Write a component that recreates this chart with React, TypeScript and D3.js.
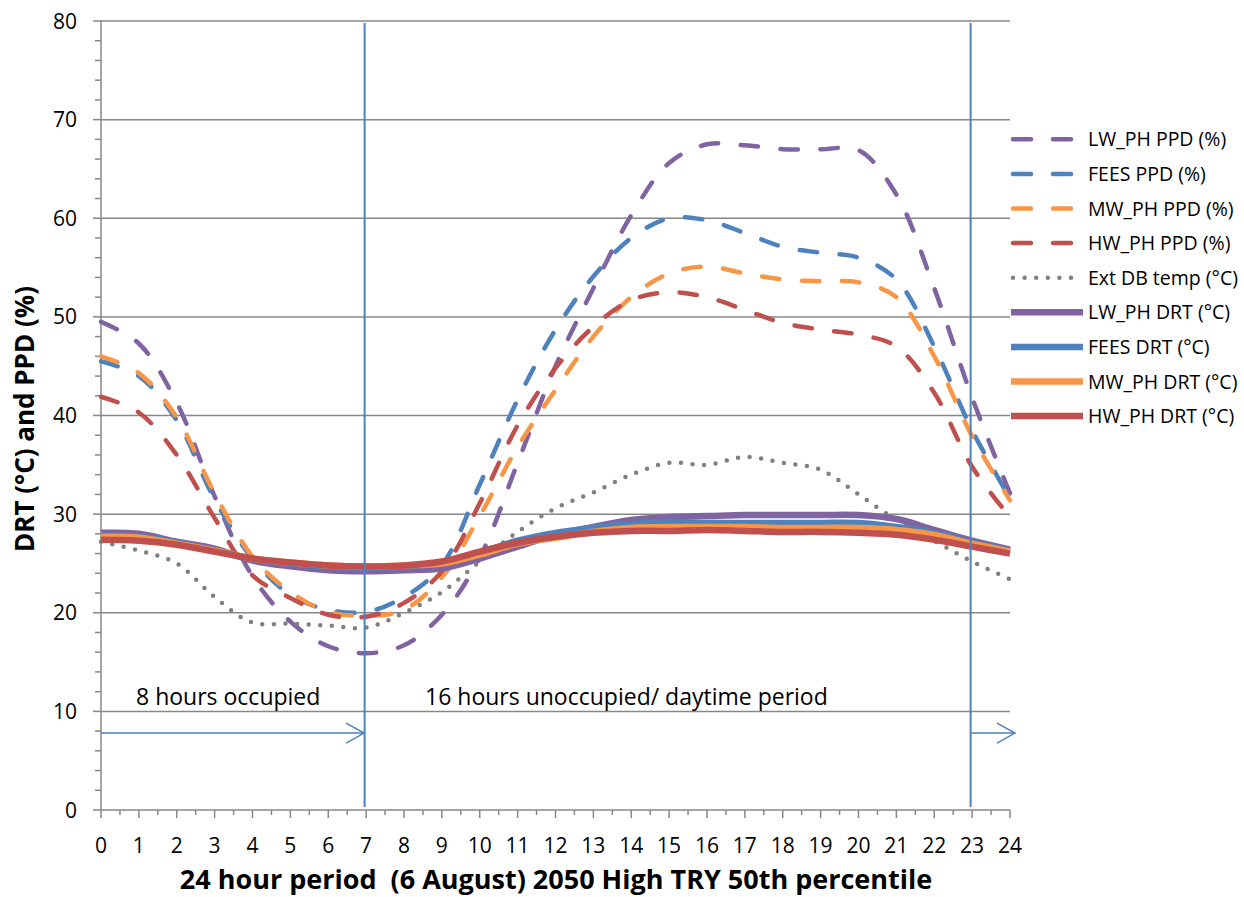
import React from "react";
import * as d3 from "d3";

const hours = [0, 1, 2, 3, 4, 5, 6, 7, 8, 9, 10, 11, 12, 13, 14, 15, 16, 17, 18, 19, 20, 21, 22, 23, 24];

const lwPpd = [49.5, 47.3, 41.3, 31.8, 23.7, 19.1, 16.6, 15.9, 16.7, 19.8, 25.6, 35.2, 45.0, 52.9, 60.3, 65.6, 67.5, 67.4, 67.0, 67.0, 66.9, 62.4, 52.9, 41.8, 32.1];
const feesPpd = [45.5, 44.0, 39.5, 31.5, 25.5, 21.8, 20.3, 20.1, 21.6, 24.8, 33.0, 41.6, 48.7, 54.1, 58.0, 60.0, 59.8, 58.5, 57.1, 56.5, 56.0, 53.8, 47.0, 38.5, 31.6];
const mwPpd = [46.0, 44.3, 39.8, 32.1, 25.7, 22.1, 20.1, 19.7, 20.3, 23.6, 29.8, 36.8, 42.6, 48.0, 52.0, 54.4, 55.1, 54.4, 53.8, 53.6, 53.5, 52.0, 46.0, 37.9, 31.4];
const hwPpd = [41.9, 40.3, 36.0, 29.6, 23.8, 21.5, 19.8, 19.6, 21.0, 24.2, 31.1, 39.0, 44.8, 49.0, 51.7, 52.5, 52.0, 50.7, 49.4, 48.7, 48.2, 47.0, 42.3, 34.8, 29.7];
const extDb = [27.2, 26.3, 25.0, 21.6, 19.0, 18.9, 18.7, 18.5, 20.0, 22.1, 25.2, 28.2, 30.6, 32.2, 34.0, 35.2, 35.0, 35.8, 35.2, 34.5, 32.0, 29.4, 27.3, 25.2, 23.4];
const lwDrt = [28.1, 28.0, 27.2, 26.5, 25.3, 24.7, 24.3, 24.2, 24.3, 24.5, 25.5, 26.7, 27.9, 28.7, 29.4, 29.7, 29.8, 29.9, 29.9, 29.9, 29.9, 29.5, 28.4, 27.3, 26.4];
const feesDrt = [27.8, 27.7, 27.1, 26.3, 25.5, 25.0, 24.7, 24.6, 24.7, 25.1, 26.1, 27.3, 28.1, 28.6, 29.0, 29.2, 29.1, 29.1, 29.1, 29.1, 29.1, 28.7, 28.1, 27.1, 26.3];
const mwDrt = [27.7, 27.6, 27.0, 26.3, 25.5, 25.1, 24.8, 24.7, 24.8, 25.0, 25.9, 27.0, 27.6, 28.2, 28.6, 28.7, 28.7, 28.7, 28.6, 28.6, 28.6, 28.4, 27.9, 27.0, 26.2];
const hwDrt = [27.4, 27.3, 26.9, 26.2, 25.5, 25.1, 24.8, 24.7, 24.8, 25.2, 26.2, 27.1, 27.7, 28.1, 28.3, 28.3, 28.4, 28.3, 28.2, 28.2, 28.1, 27.9, 27.4, 26.7, 26.0];

const yTicks = [0, 10, 20, 30, 40, 50, 60, 70, 80];
const yMinorTicks = [0, 2, 4, 6, 8, 10, 12, 14, 16, 18, 20, 22, 24, 26, 28, 30, 32, 34, 36, 38, 40, 42, 44, 46, 48, 50, 52, 54, 56, 58, 60, 62, 64, 66, 68, 70, 72, 74, 76, 78, 80];
const xMinorTicks = [0.5, 1.5, 2.5, 3.5, 4.5, 5.5, 6.5, 7.5, 8.5, 9.5, 10.5, 11.5, 12.5, 13.5, 14.5, 15.5, 16.5, 17.5, 18.5, 19.5, 20.5, 21.5, 22.5, 23.5];

const seriesNames = ["LW_PH PPD (%)", "FEES PPD (%)", "MW_PH PPD (%)", "HW_PH PPD (%)", "Ext DB temp (°C)", "LW_PH DRT (°C)", "FEES DRT (°C)", "MW_PH DRT (°C)", "HW_PH DRT (°C)"];
const seriesValues = [lwPpd, feesPpd, mwPpd, hwPpd, extDb, lwDrt, feesDrt, mwDrt, hwDrt];
const seriesColors = ["#8064A2", "#4F81BD", "#F79646", "#C0504D", "#808080", "#8064A2", "#4F81BD", "#F79646", "#C0504D"];
const seriesKinds = ["dash", "dash", "dash", "dash", "dot", "solid", "solid", "solid", "solid"];

const markerHours = [7, 23];
const arrowLevel = 7.8;
const occupiedLabel = "8 hours occupied";
const unoccupiedLabel = "16 hours unoccupied/ daytime period";
const xTitle = "24 hour period  (6 August) 2050 High TRY 50th percentile";
const yTitle = "DRT (°C) and PPD (%)";

const FONT = "'Open Sans', Lato, sans-serif";

export default function App() {
  const x = d3.scaleLinear().domain([0, 24]).range([101, 1010]);
  const y = d3.scaleLinear().domain([0, 80]).range([810, 21]);
  const line = d3
    .line<number>()
    .x((_, i) => x(hours[i]))
    .y((d) => y(d))
    .curve(d3.curveCatmullRom.alpha(0.5));

  const strokeProps = (kind: string, color: string) => {
    if (kind === "dash")
      return { stroke: color, strokeWidth: 4.5, strokeDasharray: "17.5 22.5", strokeLinecap: "round" as const };
    if (kind === "dot")
      return { stroke: color, strokeWidth: 4.5, strokeDasharray: "0 11.6", strokeLinecap: "round" as const };
    return { stroke: color, strokeWidth: 6.5, strokeLinecap: "butt" as const };
  };

  const gridColor = "#878787";
  const blue = "#4F81BD";
  const legendX = 1011;
  const legendY0 = 139.3;
  const legendStep = 34.6;
  const arrowY = y(arrowLevel);

  return (
    <svg width={1244} height={897} style={{ position: "absolute", left: 0, top: 0, background: "#fff" }} fontFamily={FONT}>
      {yTicks.map((t) => (
        <line key={"g" + t} x1={x(0)} x2={x(24)} y1={y(t)} y2={y(t)} stroke={gridColor} strokeWidth={1.5} />
      ))}
      <line x1={x(0)} x2={x(0)} y1={y(80)} y2={y(0)} stroke={gridColor} strokeWidth={1.5} />
      {yMinorTicks.map((t) => (
        <line key={"ym" + t} x1={yTicks.includes(t) ? 93 : 95} x2={x(0)} y1={y(t)} y2={y(t)} stroke={gridColor} strokeWidth={1.5} />
      ))}
      {yTicks.map((t) => (
        <text key={"yl" + t} x={77} y={y(t)} dy="0.36em" textAnchor="end" fontSize={21} fill="#000">
          {t}
        </text>
      ))}
      {hours.map((h) => (
        <line key={"xt" + h} x1={x(h)} x2={x(h)} y1={y(0)} y2={y(0) + 8} stroke={gridColor} strokeWidth={1.5} />
      ))}
      {xMinorTicks.map((h) => (
        <line key={"xm" + h} x1={x(h)} x2={x(h)} y1={y(0)} y2={y(0) + 5} stroke={gridColor} strokeWidth={1.5} />
      ))}
      {hours.map((h) => (
        <text key={"xl" + h} x={x(h)} y={853} textAnchor="middle" fontSize={21} fill="#000">
          {h}
        </text>
      ))}

      {seriesValues.map((vals, i) => (
        <path key={"s" + i} d={line(vals) || ""} fill="none" {...strokeProps(seriesKinds[i], seriesColors[i])} />
      ))}

      {markerHours.map((h) => (
        <line key={"m" + h} x1={x(h) - 1.5} x2={x(h) - 1.5} y1={23} y2={807} stroke={blue} strokeWidth={2} />
      ))}
      <line x1={x(0)} x2={x(7) - 2} y1={arrowY} y2={arrowY} stroke={blue} strokeWidth={1.5} />
      <polyline points={`${x(7) - 20},${arrowY - 10} ${x(7) - 2},${arrowY} ${x(7) - 20},${arrowY + 10}`} fill="none" stroke={blue} strokeWidth={1.5} />
      <line x1={x(23) - 1.5} x2={1015} y1={arrowY} y2={arrowY} stroke={blue} strokeWidth={1.5} />
      <polyline points={`${997},${arrowY - 10} ${1015},${arrowY} ${997},${arrowY + 10}`} fill="none" stroke={blue} strokeWidth={1.5} />

      <text x={136} y={705} fontSize={23} fill="#000">{occupiedLabel}</text>
      <text x={425} y={705} fontSize={23} fill="#000">{unoccupiedLabel}</text>

      <text x={556} y={889} textAnchor="middle" fontSize={27} fontWeight="bold" fill="#000" style={{ whiteSpace: "pre" }}>
        {xTitle}
      </text>
      <text transform="translate(34,419) rotate(-90)" textAnchor="middle" fontSize={26} fontWeight="bold" fill="#000">
        {yTitle}
      </text>

      {seriesNames.map((name, i) => {
        const ly = legendY0 + i * legendStep;
        const kind = seriesKinds[i];
        return (
          <g key={"lg" + i}>
            {kind === "dash" ? (
              <>
                <line x1={legendX + 2} x2={legendX + 20} y1={ly} y2={ly} stroke={seriesColors[i]} strokeWidth={4.5} strokeLinecap="round" />
                <line x1={legendX + 42} x2={legendX + 60} y1={ly} y2={ly} stroke={seriesColors[i]} strokeWidth={4.5} strokeLinecap="round" />
              </>
            ) : kind === "dot" ? (
              <line x1={legendX + 2} x2={legendX + 62} y1={ly} y2={ly} {...strokeProps("dot", seriesColors[i])} />
            ) : (
              <line x1={legendX} x2={legendX + 72} y1={ly} y2={ly} {...strokeProps("solid", seriesColors[i])} />
            )}
            <text x={1088} y={ly} dy="0.36em" fontSize={19.5} fill="#000">
              {name}
            </text>
          </g>
        );
      })}
    </svg>
  );
}
